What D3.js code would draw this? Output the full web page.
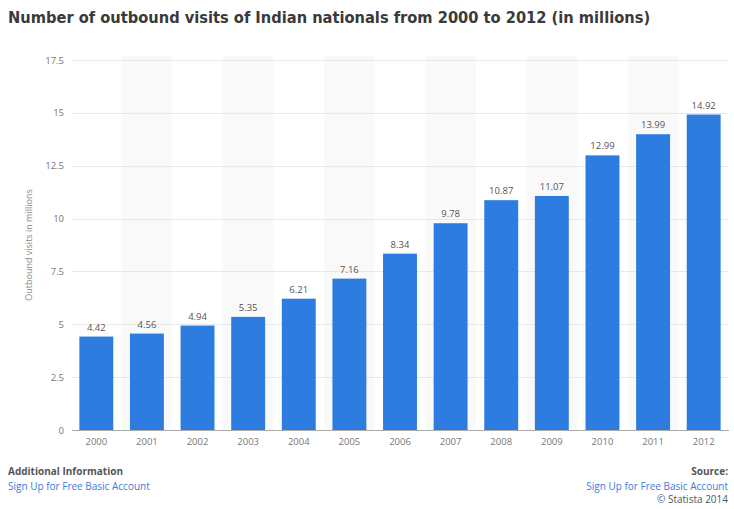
<!DOCTYPE html>
<html><head><meta charset="utf-8">
<script src="https://cdn.jsdelivr.net/npm/d3@7"></script>
<style>body{margin:0;background:#fff}svg{display:block}</style>
</head><body>
<svg id="c" width="734" height="509"></svg>
<script>
const years = ["2000","2001","2002","2003","2004","2005","2006","2007","2008","2009","2010","2011","2012"];
const visits = [4.42,4.56,4.94,5.35,6.21,7.16,8.34,9.78,10.87,11.07,12.99,13.99,14.92];
const valueLabels = ["4.42","4.56","4.94","5.35","6.21","7.16","8.34","9.78","10.87","11.07","12.99","13.99","14.92"];
const yTicks = [0,2.5,5,7.5,10,12.5,15,17.5];
const yTickLabels = ["0","2.5","5","7.5","10","12.5","15","17.5"];

const svg = d3.select("#c");
const x = d3.scaleBand().domain(years).range([71,729]).paddingInner(0.33).paddingOuter(0.165);
const xs = d3.scaleBand().domain(years).range([71,729]);
const y = d3.scaleLinear().domain([0,17.5]).range([430,60]);

// stripes
svg.append("g").selectAll("rect").data(years.filter((d,i)=>i%2===1)).join("rect")
  .attr("x",d=>xs(d)).attr("width",xs.bandwidth()).attr("y",56).attr("height",374)
  .attr("fill","#f9f9f9");

// grid
svg.append("g").selectAll("line").data(yTicks.slice(1)).join("line")
  .attr("x1",72).attr("x2",729).attr("y1",d=>Math.round(y(d))+0.5).attr("y2",d=>Math.round(y(d))+0.5)
  .attr("stroke","#e8e8e8");

// y axis
const yAxis = d3.axisLeft(y).tickValues(yTicks).tickFormat((d,i)=>yTickLabels[i]).tickSize(0).tickPadding(0);
const ga = svg.append("g").attr("transform","translate(64,0)").call(yAxis);
ga.select(".domain").remove();
ga.selectAll("text").attr("font-family","Open Sans, sans-serif").attr("font-size","9.5px").attr("fill","#777");

// bars
svg.append("g").selectAll("rect").data(years).join("rect")
  .attr("x",d=>x(d)).attr("width",x.bandwidth())
  .attr("y",(d,i)=>y(visits[i])).attr("height",(d,i)=>y(0)-y(visits[i]))
  .attr("fill","#2d7de0");

// value labels
svg.append("g").selectAll("text").data(years).join("text")
  .attr("x",d=>x(d)+x.bandwidth()/2).attr("y",(d,i)=>y(visits[i])-6)
  .attr("text-anchor","middle").attr("font-family","Open Sans, sans-serif").attr("font-size","9.5px").attr("fill","#555")
  .text((d,i)=>valueLabels[i]);

// x axis
const xAxis = d3.axisBottom(xs).tickSize(0).tickPadding(8);
const gx = svg.append("g").attr("transform","translate(0,430)").call(xAxis);
gx.select(".domain").attr("stroke","#aaa").attr("d","M72,0.5H729");
gx.selectAll("text").attr("font-family","Open Sans, sans-serif").attr("font-size","9.5px").attr("fill","#777");

// y label
svg.append("text").attr("transform","translate(32,245) rotate(-90)").attr("text-anchor","middle")
  .attr("font-family","Open Sans, sans-serif").attr("font-size","9px").attr("fill","#888")
  .text("Outbound visits in millions");

// title
svg.append("text").attr("x",8).attr("y",23).attr("font-family","DejaVu Sans Condensed, DejaVu Sans, sans-serif")
  .attr("font-weight","bold").attr("font-size","16.3px").attr("fill","#3a3a3a")
  .text("Number of outbound visits of Indian nationals from 2000 to 2012 (in millions)");

// footer
const f = svg.append("g").attr("font-family","Open Sans, sans-serif").attr("font-size","10px");
f.append("text").attr("x",8).attr("y",475).attr("font-weight","bold").attr("fill","#555").text("Additional Information");
f.append("text").attr("x",8).attr("y",490).attr("fill","#3b7dd8").text("Sign Up for Free Basic Account");
f.append("text").attr("x",728).attr("y",475).attr("text-anchor","end").attr("font-weight","bold").attr("fill","#555").text("Source:");
f.append("text").attr("x",728).attr("y",490).attr("text-anchor","end").attr("fill","#3b7dd8").text("Sign Up for Free Basic Account");
f.append("text").attr("x",728).attr("y",503).attr("text-anchor","end").attr("fill","#555").text("© Statista 2014");
</script>
</body></html>
